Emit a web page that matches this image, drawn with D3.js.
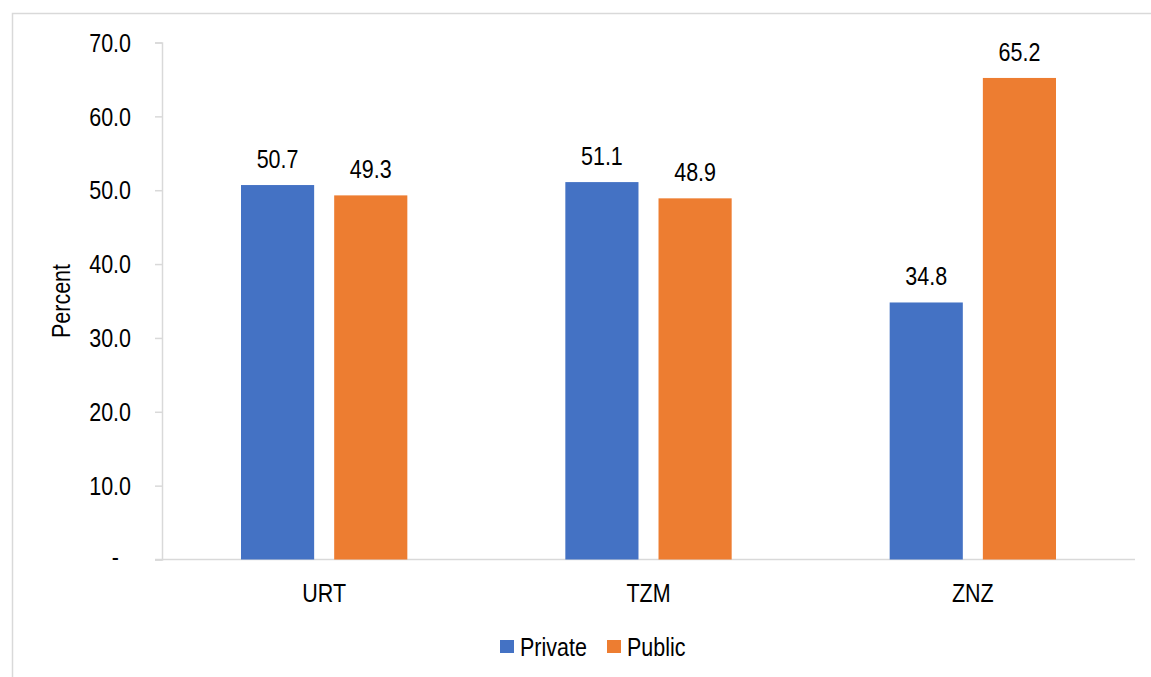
<!DOCTYPE html>
<html>
<head>
<meta charset="utf-8">
<script src="https://cdn.jsdelivr.net/npm/d3@7"></script>
<style>
  body { margin: 0; background: #fff; }
  text { font-family: "Liberation Sans Narrow", "Arial Narrow", "Liberation Sans", Arial, sans-serif; fill: #000; }
  /* imitate the narrow face of the original */
  .nar-mid { transform-box: fill-box; transform-origin: 50% 50%; transform: scaleX(0.86); }
  .nar-end { transform-box: fill-box; transform-origin: 100% 50%; transform: scaleX(0.86); }
  .nar-start { transform-box: fill-box; transform-origin: 0% 50%; transform: scaleX(0.86); }
</style>
</head>
<body>
<div id="chart"></div>
<script>
var width = 1151;
var height = 677;

// data
var categories = ["URT", "TZM", "ZNZ"];
var seriesNames = ["Private", "Public"];
var privateValues = [50.7, 51.1, 34.8];
var publicValues = [49.3, 48.9, 65.2];
var yTicks = [0, 10, 20, 30, 40, 50, 60, 70];
var colors = ["#4472C4", "#ED7D31"];

var fontSize = 25;

var svg = d3.select("#chart")
    .append("svg")
    .attr("width", width)
    .attr("height", height);

// outer chart border (cropped on right / bottom)
svg.append("rect")
    .attr("x", 12.5).attr("y", 13.5)
    .attr("width", 1300).attr("height", 800)
    .attr("fill", "none")
    .attr("stroke", "#d9d9d9")
    .attr("stroke-width", 1.5);

var plotLeft = 162, plotRight = 1135, plotTop = 42.5, plotBottom = 559.5;

var x0 = d3.scaleBand().domain(categories).range([plotLeft, plotRight]).padding(0);
var x1 = d3.scaleBand().domain(seriesNames)
    .range([79, x0.bandwidth() - 79])
    .paddingInner(0.215);
var y = d3.scaleLinear().domain([0, 70]).range([plotBottom, plotTop]);

// y axis
var yAxis = svg.append("g")
    .attr("transform", "translate(" + plotLeft + ",0)")
    .call(d3.axisLeft(y).tickValues(yTicks).tickSize(7).tickPadding(24)
        .tickFormat(function(d){ return d === 0 ? "-" : d3.format(".1f")(d); }));
yAxis.select(".domain").attr("stroke", "#d9d9d9").attr("stroke-width", 1.5);
yAxis.selectAll(".tick line").attr("stroke", "#d9d9d9").attr("stroke-width", 1.5);
yAxis.selectAll(".tick text")
    .attr("class", "nar-end")
    .attr("font-size", fontSize)
    .attr("font-family", null)
    .attr("dx", function(d){ return d === 0 ? -12 : 0; })
    .attr("dy", function(d){ return d === 0 ? "0.25em" : "0.35em"; });

// x axis line
svg.append("line")
    .attr("x1", plotLeft - 7).attr("x2", plotRight)
    .attr("y1", plotBottom).attr("y2", plotBottom)
    .attr("stroke", "#d9d9d9").attr("stroke-width", 1.5);

// category labels
svg.selectAll(".cat")
    .data(categories)
    .enter().append("text")
    .attr("class", "cat nar-mid")
    .attr("x", function(d){ return x0(d) + x0.bandwidth() / 2; })
    .attr("y", 602)
    .attr("text-anchor", "middle")
    .attr("font-size", fontSize)
    .text(function(d){ return d; });

// bars
var rows = categories.map(function(c, i){
    return { cat: c, values: [privateValues[i], publicValues[i]] };
});

var groups = svg.selectAll(".grp")
    .data(rows)
    .enter().append("g")
    .attr("class", "grp")
    .attr("transform", function(d){ return "translate(" + x0(d.cat) + ",0)"; });

var bars = groups.selectAll(".bar")
    .data(function(d){ return d.values.map(function(v, j){ return { s: seriesNames[j], v: v, j: j }; }); })
    .enter();

bars.append("rect")
    .attr("class", "bar")
    .attr("x", function(d){ return x1(d.s); })
    .attr("width", x1.bandwidth())
    .attr("y", function(d){ return y(d.v); })
    .attr("height", function(d){ return plotBottom - y(d.v); })
    .attr("fill", function(d){ return colors[d.j]; });

bars.append("text")
    .attr("class", "nar-mid")
    .attr("x", function(d){ return x1(d.s) + x1.bandwidth() / 2; })
    .attr("y", function(d){ return y(d.v) - 17; })
    .attr("text-anchor", "middle")
    .attr("font-size", fontSize)
    .text(function(d){ return d3.format(".1f")(d.v); });

// y axis title
svg.append("text")
    .attr("transform", "translate(70," + ((plotTop + plotBottom) / 2) + ") rotate(-90) scale(0.86,1)")
    .attr("text-anchor", "middle")
    .attr("font-size", fontSize)
    .text("Percent");

// legend
var legend = svg.append("g");
var legendX = [500, 607];
seriesNames.forEach(function(s, i){
    legend.append("rect")
        .attr("x", legendX[i]).attr("y", 640)
        .attr("width", 14).attr("height", 13)
        .attr("fill", colors[i]);
    legend.append("text")
        .attr("class", "nar-start")
        .attr("x", legendX[i] + 20).attr("y", 656)
        .attr("font-size", fontSize)
        .text(s);
});
</script>
</body>
</html>
